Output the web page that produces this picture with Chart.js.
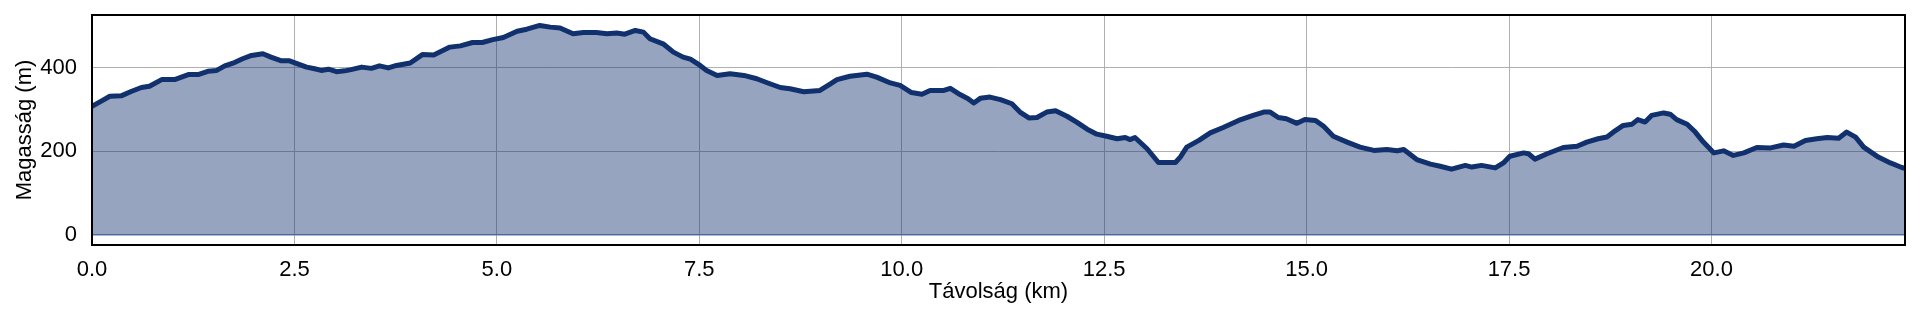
<!DOCTYPE html>
<html>
<head>
<meta charset="utf-8">
<script src="https://cdn.jsdelivr.net/npm/chart.js@4/dist/chart.umd.min.js"></script>
<style>
  html, body { margin: 0; padding: 0; background: #ffffff; }
  canvas { display: block; }
</style>
</head>
<body>
<canvas id="c" width="1920" height="320"></canvas>
<script>
// ---- data ----
const distanceKm = [
  0.00, 0.12, 0.22, 0.36, 0.49, 0.61, 0.71, 0.86, 1.02, 1.19, 1.31, 1.43, 1.54, 1.64, 1.76, 1.86, 1.97, 2.11, 2.21, 2.34,
  2.44, 2.54, 2.65, 2.75, 2.83, 2.92, 3.02, 3.12, 3.20, 3.33, 3.45, 3.55, 3.66, 3.76, 3.93, 4.08, 4.22, 4.42, 4.55, 4.70,
  4.82, 4.95, 5.08, 5.25, 5.37, 5.53, 5.66, 5.78, 5.94, 6.07, 6.23, 6.36, 6.48, 6.58, 6.71, 6.81, 6.89, 7.06, 7.18, 7.30,
  7.39, 7.51, 7.59, 7.72, 7.88, 8.05, 8.21, 8.33, 8.50, 8.62, 8.79, 8.99, 9.12, 9.20, 9.36, 9.57, 9.69, 9.86, 9.98, 10.12,
  10.25, 10.35, 10.52, 10.60, 10.72, 10.82, 10.89, 10.97, 11.09, 11.22, 11.36, 11.46, 11.57, 11.67, 11.79, 11.90, 12.04, 12.16, 12.29, 12.41,
  12.53, 12.66, 12.76, 12.82, 12.88, 13.03, 13.17, 13.38, 13.44, 13.52, 13.67, 13.81, 13.97, 14.16, 14.34, 14.47, 14.55, 14.65, 14.75, 14.88,
  14.98, 15.11, 15.21, 15.33, 15.50, 15.66, 15.83, 15.99, 16.12, 16.20, 16.36, 16.53, 16.65, 16.79, 16.96, 17.04, 17.16, 17.33, 17.43, 17.51,
  17.68, 17.74, 17.82, 17.97, 18.17, 18.34, 18.46, 18.60, 18.71, 18.81, 18.91, 19.02, 19.09, 19.18, 19.26, 19.41, 19.49, 19.57, 19.70, 19.80,
  19.90, 20.03, 20.15, 20.27, 20.40, 20.56, 20.73, 20.89, 21.02, 21.16, 21.30, 21.43, 21.57, 21.67, 21.78, 21.88, 22.06, 22.21, 22.35, 22.39
];
const elevationM = [
  308, 321, 332, 333, 344, 353, 356, 372, 372, 384, 384, 392, 394, 405, 413, 422, 430, 434, 426, 417,
  417, 410, 402, 398, 394, 397, 391, 393, 396, 402, 399, 405, 400, 406, 412, 432, 431, 450, 453, 461,
  461, 468, 473, 488, 493, 502, 498, 496, 482, 485, 485, 482, 484, 481, 490, 486, 470, 457, 438, 426,
  421, 406, 394, 382, 386, 382, 374, 365, 353, 350, 343, 346, 362, 372, 380, 385, 378, 364, 358, 341,
  337, 346, 346, 351, 336, 326, 316, 327, 330, 324, 314, 294, 280, 281, 294, 297, 284, 270, 253, 241,
  236, 230, 233, 228, 233, 206, 173, 173, 186, 210, 226, 244, 257, 274, 286, 294, 294, 281, 278, 267,
  276, 274, 260, 236, 222, 210, 202, 204, 201, 204, 180, 169, 164, 157, 166, 162, 166, 160, 172, 188,
  196, 194, 181, 194, 209, 212, 222, 230, 234, 249, 262, 265, 276, 270, 286, 292, 289, 276, 265, 246,
  222, 196, 201, 190, 196, 209, 208, 215, 212, 226, 230, 233, 231, 246, 234, 210, 186, 172, 161, 159
];
const xTickValues = [0, 2.5, 5, 7.5, 10, 12.5, 15, 17.5, 20];
const xTickLabels = ["0.0", "2.5", "5.0", "7.5", "10.0", "12.5", "15.0", "17.5", "20.0"];
const yTickValues = [0, 200, 400];
const yTickLabels = ["0", "200", "400"];
const xTitle = "Távolság (km)";
const yTitle = "Magasság (m)";

// ---- derived ----
const points = distanceKm.map((d, i) => ({ x: d, y: elevationM[i] }));
const xMax = distanceKm[distanceKm.length - 1];
const yMaxData = Math.max(...elevationM);
const yMargin = yMaxData * 0.05;

const FONT = '"Liberation Sans", Arial, sans-serif';
const LINE = 'rgb(17,48,110)';
const FILL = 'rgba(17,48,110,0.44)';

const frame = {
  id: 'frame',
  afterDraw(chart) {
    const a = chart.chartArea, ctx = chart.ctx;
    ctx.save();
    ctx.strokeStyle = '#000';
    ctx.lineWidth = 2;
    ctx.strokeRect(a.left, a.top, a.right - a.left, a.bottom - a.top);
    ctx.restore();
  }
};

function zeroPad(s) {
  s.paddingTop = 0; s.paddingBottom = 0; s.paddingLeft = 0; s.paddingRight = 0;
}

new Chart(document.getElementById('c'), {
  type: 'line',
  data: {
    datasets: [{
      data: points,
      borderColor: LINE,
      backgroundColor: FILL,
      borderWidth: 5,
      fill: 'origin',
      pointRadius: 0,
      tension: 0,
      borderJoinStyle: 'round',
      borderCapStyle: 'round'
    }]
  },
  options: {
    responsive: false,
    animation: false,
    devicePixelRatio: 1,
    layout: { padding: { left: 0, top: 15, right: 15, bottom: 0 } },
    plugins: { legend: { display: false }, tooltip: { enabled: false } },
    scales: {
      x: {
        type: 'linear',
        min: 0,
        max: xMax,
        afterBuildTicks: s => { s.ticks = xTickValues.map(v => ({ value: v })); },
        afterFit: s => { s.height = 75; zeroPad(s); },
        ticks: {
          callback: (v) => { const i = xTickValues.indexOf(v); return i >= 0 ? xTickLabels[i] : ''; },
          font: { family: FONT, size: 22 },
          color: '#000',
          padding: 12,
          maxRotation: 0,
          autoSkip: false
        },
        grid: { color: '#b0b0b0', lineWidth: 1, drawTicks: false },
        border: { display: false },
        title: {
          display: true,
          text: xTitle,
          font: { family: FONT, size: 22 },
          color: '#000',
          padding: { top: 0, bottom: 15 }
        }
      },
      y: {
        type: 'linear',
        min: -yMargin,
        max: yMaxData + yMargin,
        afterBuildTicks: s => { s.ticks = yTickValues.map(v => ({ value: v })); },
        afterFit: s => { s.width = 92; zeroPad(s); },
        ticks: {
          callback: (v) => { const i = yTickValues.indexOf(v); return i >= 0 ? yTickLabels[i] : ''; },
          font: { family: FONT, size: 22 },
          color: '#000',
          padding: 15,
          autoSkip: false
        },
        grid: {
          color: ctx => (ctx.tick && ctx.tick.value === 0) ? 'rgb(95,120,175)' : '#b0b0b0',
          lineWidth: ctx => (ctx.tick && ctx.tick.value === 0) ? 1.5 : 1,
          drawTicks: false
        },
        border: { display: false },
        title: {
          display: true,
          text: yTitle,
          font: { family: FONT, size: 22 },
          color: '#000',
          padding: { top: 12, bottom: 0 }
        }
      }
    }
  },
  plugins: [frame]
});
</script>
</body>
</html>
